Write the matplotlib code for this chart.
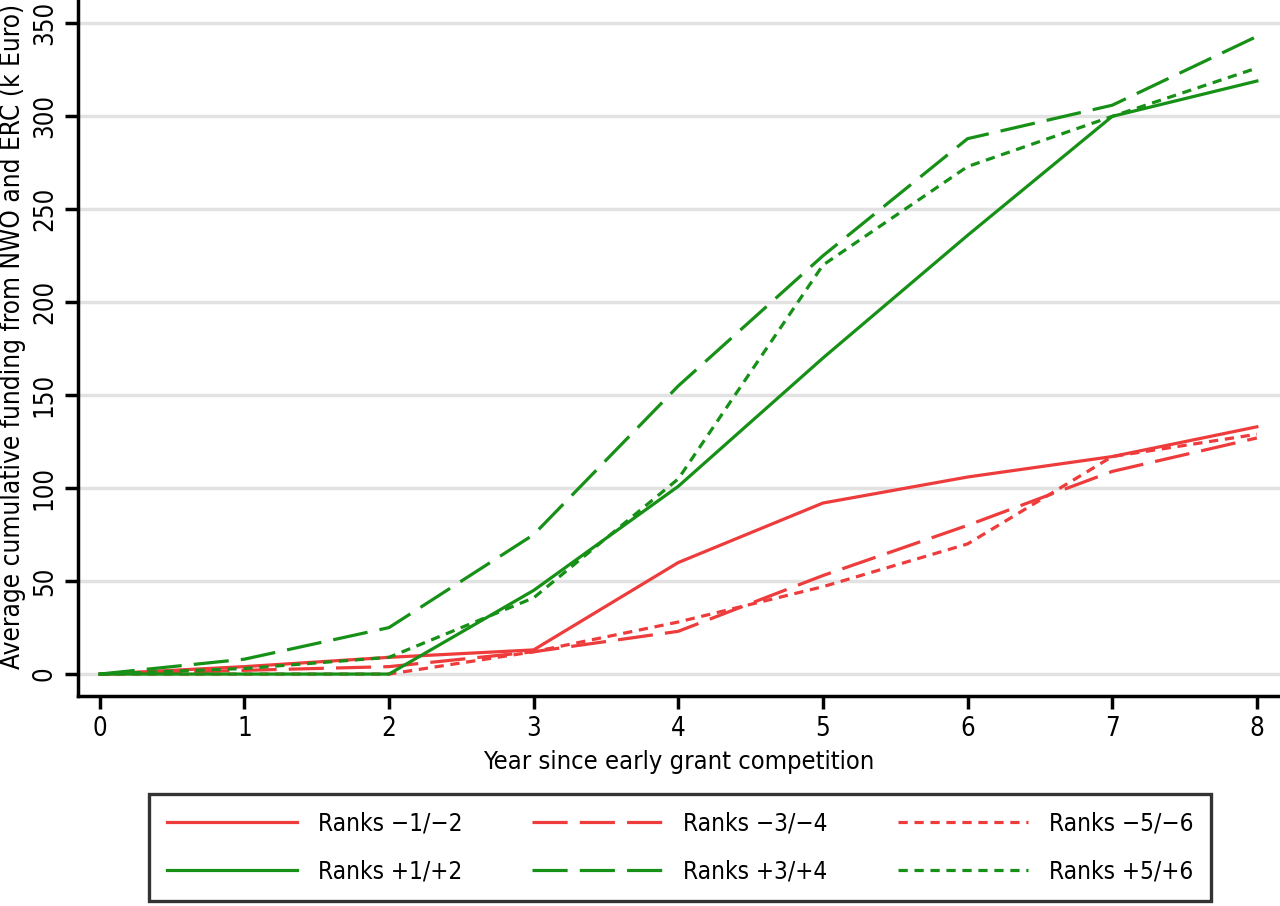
import matplotlib
matplotlib.use("Agg")
import matplotlib.pyplot as plt

years = [0, 1, 2, 3, 4, 5, 6, 7, 8]
neg_12 = [0, 4, 9, 13, 60, 92, 106, 117, 133]
neg_34 = [0, 2, 4, 12, 23, 53, 80, 109, 127]
neg_56 = [0, 0, 0, 12, 28, 47, 70, 117, 129]
pos_12 = [0, 0, 0, 45, 101, 170, 236, 300, 319]
pos_34 = [0, 8, 25, 75, 155, 225, 288, 306, 343]
pos_56 = [0, 3, 9, 41, 105, 220, 273, 300, 326]
labels = ["Ranks \u22121/\u22122", "Ranks \u22123/\u22124", "Ranks \u22125/\u22126",
          "Ranks +1/+2", "Ranks +3/+4", "Ranks +5/+6"]
yticks = [0, 50, 100, 150, 200, 250, 300, 350]
xticks = [0, 1, 2, 3, 4, 5, 6, 7, 8]

plt.rcParams['font.family'] = ['DejaVu Sans']
plt.rcParams['font.stretch'] = 'condensed'

RED = '#ee3b3b'
GREEN = '#169016'
lw = 2.3
long_dash = (0, (11, 3.8))
short_dash = (0, (2.9, 2.1))

fig = plt.figure(figsize=(12.8, 9.06), dpi=100)
ax = fig.add_axes([78/1280, 1 - 696/906, 1 - 78/1280, 696/906])

series = [
    (neg_12, RED, '-', labels[0]),
    (neg_34, RED, long_dash, labels[1]),
    (neg_56, RED, short_dash, labels[2]),
    (pos_12, GREEN, '-', labels[3]),
    (pos_34, GREEN, long_dash, labels[4]),
    (pos_56, GREEN, short_dash, labels[5]),
]
handles = {}
for vals, c, ls, lab in series:
    h, = ax.plot(years, vals, color=c, linestyle=ls, lw=lw, label=lab, zorder=3)
    handles[lab] = h

ax.set_xlim(-0.15, 8.16)
ax.set_ylim(-11.8, 362.6)
ax.set_xticks(xticks)
ax.set_yticks(yticks)
ax.set_yticklabels([str(v) for v in yticks], rotation=90, va='center')
ax.grid(axis='y', color='#e2e2e2', lw=2.5, zorder=0)
ax.set_axisbelow(True)
for s in ['top', 'right']:
    ax.spines[s].set_visible(False)
for s in ['left', 'bottom']:
    ax.spines[s].set_linewidth(2.5)
ax.tick_params(axis='both', direction='out', length=9.5, width=2.5, labelsize=18.5, pad=5)
ax.set_xlabel("Year since early grant competition", fontsize=18.3, labelpad=6)
ax.set_ylabel("Average cumulative funding from NWO and ERC (k Euro)", fontsize=18.8)
ax.yaxis.set_label_coords(-0.043, 0.517)

order = [labels[0], labels[3], labels[1], labels[4], labels[2], labels[5]]
leg = fig.legend([handles[l] for l in order], order, ncol=3,
                 loc='center', bbox_to_anchor=(680/1280, 1 - 847.5/906),
                 fontsize=17.5, frameon=True, fancybox=False, edgecolor='black',
                 handlelength=5.35, handletextpad=0.86, columnspacing=2.88,
                 labelspacing=0.95, borderpad=0.75, borderaxespad=0)
leg.get_frame().set_linewidth(2.4)

fig.savefig("out.png", dpi=100)
